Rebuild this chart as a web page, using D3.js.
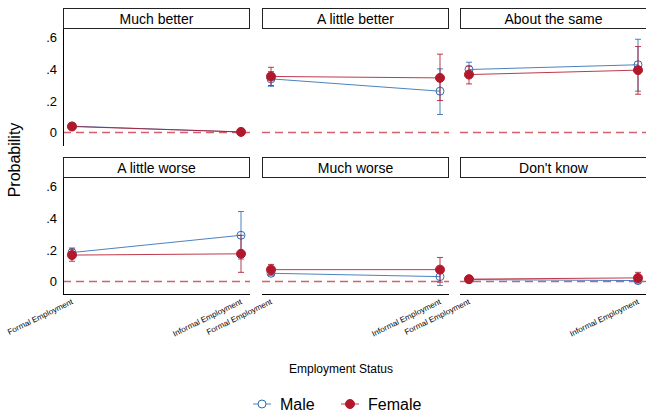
<!DOCTYPE html>
<html>
<head>
<meta charset="utf-8">
<script src="https://cdn.jsdelivr.net/npm/d3@7"></script>
<style>
  body { margin: 0; background: #fff; }
  text { font-family: Arial, "Liberation Sans", sans-serif; fill: #000; }
</style>
</head>
<body>
<script>
// Data
var outcomes = ["Much better", "A little better", "About the same", "A little worse", "Much worse", "Don't know"];
var employment = ["Formal Employment", "Informal Employment"];
var yTicks = [0, 0.2, 0.4, 0.6];

// [formal, informal] per outcome
var maleEst = [[0.040, 0.003], [0.339, 0.261], [0.398, 0.428], [0.183, 0.292], [0.052, 0.031], [0.012, 0.006]];
var maleLo  = [[0.022, -0.002], [0.292, 0.114], [0.352, 0.261], [0.155, 0.142], [0.037, -0.025], [0.004, -0.004]];
var maleHi  = [[0.058, 0.008], [0.385, 0.402], [0.444, 0.589], [0.212, 0.442], [0.066, 0.058], [0.020, 0.016]];

var femaleEst = [[0.038, 0.004], [0.354, 0.345], [0.366, 0.394], [0.167, 0.175], [0.075, 0.075], [0.015, 0.023]];
var femaleLo  = [[0.020, -0.002], [0.297, 0.202], [0.307, 0.242], [0.128, 0.058], [0.044, -0.004], [0.006, -0.010]];
var femaleHi  = [[0.056, 0.010], [0.412, 0.495], [0.419, 0.543], [0.205, 0.292], [0.108, 0.152], [0.024, 0.058]];

var maleColor = "#2b6cb3";
var femaleColor = "#b2182b";

var width = 646, height = 419;
var svg = d3.select("body").append("svg")
    .attr("width", width)
    .attr("height", height);

var panelW = 187, headerH = 20, plotH = 117;
var colX = [63, 262, 460];
var rowY = [8, 157];

var x = d3.scalePoint().domain(employment).range([9, 178]);
var y = d3.scaleLinear().domain([-0.082, 0.657]).range([plotH, 0]);

var series = [
  {name: "Male", est: maleEst, lo: maleLo, hi: maleHi, color: maleColor, filled: false},
  {name: "Female", est: femaleEst, lo: femaleLo, hi: femaleHi, color: femaleColor, filled: true}
];

outcomes.forEach(function(o, i){
  var col = i % 3, row = Math.floor(i / 3);
  var g = svg.append("g")
      .attr("transform", "translate(" + colX[col] + "," + rowY[row] + ")");

  // header strip
  g.append("rect")
      .attr("x", 0.5).attr("y", 0.5)
      .attr("width", panelW - 1).attr("height", headerH)
      .attr("fill", "#fff").attr("stroke", "#222").attr("stroke-width", 1);
  g.append("text")
      .attr("x", panelW / 2).attr("y", headerH / 2 + 5.5)
      .attr("text-anchor", "middle")
      .attr("font-size", "14px")
      .text(o);

  var p = g.append("g").attr("transform", "translate(0," + (headerH + 0.5) + ")");

  // zero reference line
  p.append("line")
      .attr("x1", 0).attr("x2", panelW)
      .attr("y1", y(0)).attr("y2", y(0))
      .attr("stroke", "#d2606f").attr("stroke-width", 1.3)
      .attr("stroke-dasharray", "8,5");

  if (col == 0) {
    var ya = p.append("g")
        .call(d3.axisLeft(y).tickValues(yTicks).tickSize(0).tickPadding(6)
          .tickFormat(function(d){ return d == 0 ? "0" : d3.format(".1f")(d).replace("0.", "."); }));
    ya.select(".domain").attr("stroke", "#000");
    ya.selectAll("text").attr("font-size", "13px").attr("font-family", "Arial, 'Liberation Sans', sans-serif");
  }

  if (row == 1) {
    var xa = p.append("g")
        .attr("transform", "translate(0," + plotH + ")")
        .call(d3.axisBottom(x).tickSize(0).tickPadding(0));
    xa.select(".domain").attr("stroke", "#000").attr("d", "M0,0H" + panelW);
    xa.selectAll("text")
        .attr("font-size", "8px")
        .attr("font-family", "Arial, 'Liberation Sans', sans-serif")
        .attr("text-anchor", "end")
        .attr("dy", null)
        .attr("y", 0)
        .attr("transform", "translate(1,9) rotate(-26)");
  }

  series.forEach(function(s){
    var pts = employment.map(function(e, j){
      return {e: e, v: s.est[i][j], lo: s.lo[i][j], hi: s.hi[i][j]};
    });

    p.append("path")
        .datum(pts)
        .attr("fill", "none")
        .attr("stroke", s.color)
        .attr("stroke-opacity", 0.85)
        .attr("stroke-width", 1)
        .attr("d", d3.line().x(function(d){ return x(d.e); }).y(function(d){ return y(d.v); }));

    var eb = p.selectAll(null).data(pts).enter().append("g")
        .attr("stroke", s.color).attr("stroke-width", 1).attr("stroke-opacity", 0.85);
    eb.append("line")
        .attr("x1", function(d){ return x(d.e); }).attr("x2", function(d){ return x(d.e); })
        .attr("y1", function(d){ return y(d.lo); }).attr("y2", function(d){ return y(d.hi); });
    eb.append("line")
        .attr("x1", function(d){ return x(d.e) - 3; }).attr("x2", function(d){ return x(d.e) + 3; })
        .attr("y1", function(d){ return y(d.lo); }).attr("y2", function(d){ return y(d.lo); });
    eb.append("line")
        .attr("x1", function(d){ return x(d.e) - 3; }).attr("x2", function(d){ return x(d.e) + 3; })
        .attr("y1", function(d){ return y(d.hi); }).attr("y2", function(d){ return y(d.hi); });

    p.selectAll(null).data(pts).enter().append("circle")
        .attr("cx", function(d){ return x(d.e); })
        .attr("cy", function(d){ return y(d.v); })
        .attr("r", s.filled ? 4.5 : 4)
        .attr("fill", s.filled ? s.color : "none")
        .attr("stroke", s.color)
        .attr("stroke-width", 1);
  });
});

// axis titles
svg.append("text")
    .attr("transform", "translate(20,160) rotate(-90)")
    .attr("text-anchor", "middle")
    .attr("font-size", "16px")
    .text("Probability");

svg.append("text")
    .attr("x", 341).attr("y", 373)
    .attr("text-anchor", "middle")
    .attr("font-size", "12px")
    .text("Employment Status");

// legend
var legend = svg.append("g").attr("transform", "translate(0,404)");
var legX = [262, 350];
series.forEach(function(s, k){
  var lg = legend.append("g").attr("transform", "translate(" + legX[k] + ",0)");
  lg.append("line")
      .attr("x1", -9).attr("x2", 9)
      .attr("stroke", s.color).attr("stroke-width", 1).attr("stroke-opacity", 0.85);
  lg.append("circle")
      .attr("r", s.filled ? 4.5 : 4)
      .attr("fill", s.filled ? s.color : "#fff")
      .attr("stroke", s.color);
  lg.append("text")
      .attr("x", 18).attr("y", 6)
      .attr("font-size", "16px")
      .text(s.name);
});
</script>
</body>
</html>
